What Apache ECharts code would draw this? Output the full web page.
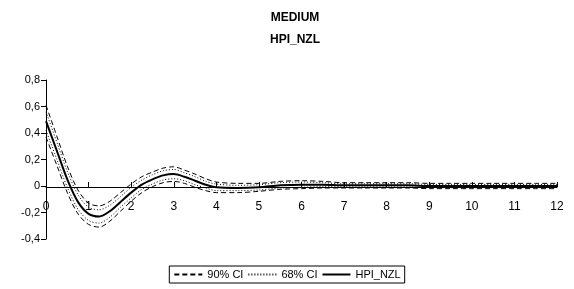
<!DOCTYPE html>
<html>
<head>
<meta charset="utf-8">
<script src="https://cdn.jsdelivr.net/npm/echarts@6/dist/echarts.min.js"></script>
<style>
  html, body { margin: 0; padding: 0; background: #fff; }
  #chart { width: 574px; height: 289px; }
</style>
</head>
<body>
<div id="chart"></div>
<script>
// horizon (years)
var xs = [0, 0.25, 0.5, 0.75, 1, 1.25, 1.5, 1.75, 2, 2.25, 2.5, 2.75, 3, 3.25, 3.5, 3.75, 4,
    4.5, 5, 5.5, 6, 6.5, 7, 7.5, 8, 8.5, 9, 9.5, 10, 10.5, 11, 11.5, 12];
// HPI_NZL response
var hpi = [0.49, 0.27, 0.05, -0.12, -0.21, -0.23, -0.19, -0.12, -0.05, 0.01, 0.05, 0.08, 0.09, 0.07, 0.04, 0.01, -0.01,
    -0.015, -0.01, 0.005, 0.01, 0.01, 0.005, 0.005, 0.005, 0.005, 0, 0, 0, 0, 0, 0, 0];
// 90% bands
var up90 = [0.61, 0.38, 0.15, -0.03, -0.13, -0.15, -0.115, -0.05, 0.015, 0.07, 0.105, 0.135, 0.145, 0.12, 0.09, 0.055, 0.03,
    0.02, 0.02, 0.035, 0.04, 0.035, 0.025, 0.025, 0.025, 0.025, 0.02, 0.02, 0.02, 0.02, 0.02, 0.02, 0.02];
var lo90 = [0.37, 0.16, -0.05, -0.21, -0.29, -0.31, -0.265, -0.19, -0.115, -0.05, -0.005, 0.025, 0.035, 0.02, -0.01, -0.035, -0.05,
    -0.05, -0.04, -0.025, -0.02, -0.015, -0.015, -0.015, -0.015, -0.015, -0.02, -0.02, -0.02, -0.02, -0.02, -0.02, -0.02];
// 68% bands
var up68 = [0.56, 0.335, 0.11, -0.065, -0.16, -0.18, -0.145, -0.08, -0.01, 0.045, 0.085, 0.115, 0.125, 0.10, 0.07, 0.035, 0.015,
    0.005, 0.01, 0.025, 0.03, 0.025, 0.017, 0.017, 0.017, 0.017, 0.012, 0.012, 0.012, 0.012, 0.012, 0.012, 0.012];
var lo68 = [0.42, 0.205, -0.01, -0.175, -0.26, -0.28, -0.235, -0.16, -0.09, -0.025, 0.015, 0.045, 0.055, 0.04, 0.01, -0.015, -0.035,
    -0.035, -0.03, -0.015, -0.01, -0.005, -0.007, -0.007, -0.007, -0.007, -0.012, -0.012, -0.012, -0.012, -0.012, -0.012, -0.012];

var font = 'Liberation Sans';

function pairs(ys) {
    var d = [];
    for (var i = 0; i < xs.length; i++) {
        d.push([xs[i], ys[i]]);
    }
    return d;
}

function line(name, ys, type, width) {
    return {
        name: name,
        type: 'line',
        data: pairs(ys),
        smooth: 0.3,
        symbol: 'none',
        silent: true,
        animation: false,
        lineStyle: { color: '#000', width: width, type: type },
        itemStyle: { color: '#000' }
    };
}

var chart = echarts.init(document.getElementById('chart'));
var option = {
    backgroundColor: '#fff',
    animation: false,
    title: {
        text: 'MEDIUM\nHPI_NZL',
        left: 290,
        textAlign: 'center',
        top: 2,
        textStyle: { fontFamily: font, fontSize: 12, fontWeight: 'bold', color: '#000', lineHeight: 22 }
    },
    legend: {
        data: ['90% CI', '68% CI', 'HPI_NZL'],
        left: 'center',
        bottom: 6,
        itemWidth: 28,
        itemHeight: 10,
        itemGap: 4,
        padding: [3, 4],
        borderColor: '#000',
        borderWidth: 1,
        borderRadius: 0,
        itemStyle: { color: 'rgba(0,0,0,0)', borderWidth: 0 },
        textStyle: { fontFamily: font, fontSize: 11, color: '#000' }
    },
    grid: { left: 46, right: 17, top: 80, bottom: 50, containLabel: false },
    xAxis: {
        type: 'value',
        min: 0,
        max: 12,
        interval: 1,
        position: 'bottom',
        offset: -52,
        axisLine: { onZero: false, lineStyle: { color: '#000', width: 1 } },
        axisTick: { show: true, inside: true, length: 5, lineStyle: { color: '#000' } },
        axisLabel: { fontFamily: font, fontSize: 12, color: '#000', margin: 14 },
        splitLine: { show: false }
    },
    yAxis: {
        type: 'value',
        min: -0.4,
        max: 0.8,
        interval: 0.2,
        axisLine: { show: true, lineStyle: { color: '#000', width: 1 } },
        axisTick: { show: true, length: 5, lineStyle: { color: '#000' } },
        axisLabel: {
            fontFamily: font, fontSize: 11, color: '#000', margin: 6,
            formatter: function (v) {
                if (Math.abs(v) < 1e-9) return '0';
                return v.toFixed(1).replace('.', ',');
            }
        },
        splitLine: { show: false }
    },
    series: [
        line('90% CI', up90, [5, 3], 1),
        line('90% CI', lo90, [5, 3], 1),
        line('68% CI', up68, [1, 2], 1),
        line('68% CI', lo68, [1, 2], 1),
        line('HPI_NZL', hpi, 'solid', 2)
    ]
};
chart.setOption(option);
</script>
</body>
</html>
